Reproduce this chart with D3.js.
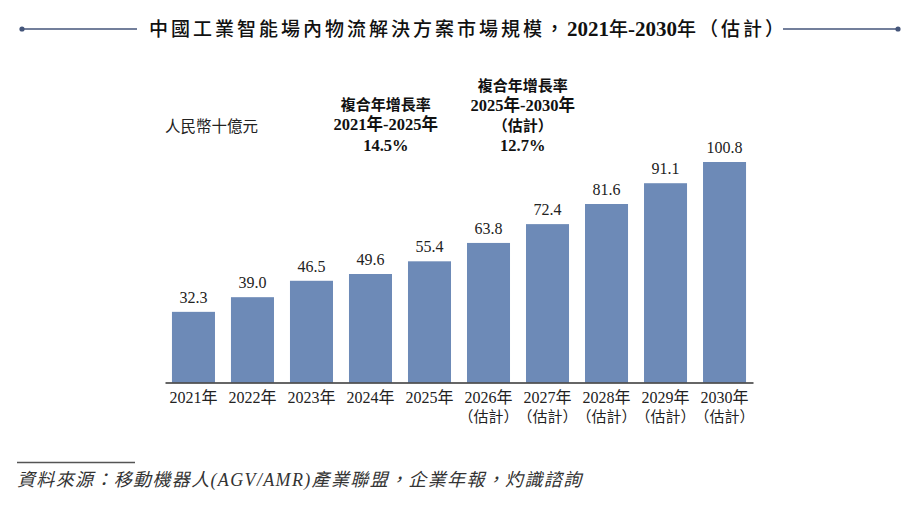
<!DOCTYPE html>
<html>
<head>
<meta charset="utf-8">
<script src="https://cdn.jsdelivr.net/npm/d3@7"></script>
<style>
body { margin: 0; background: #fff; }
svg { display: block; }
</style>
</head>
<body>
<svg width="920" height="521"></svg>
<script>
// data
var years = ["2021年","2022年","2023年","2024年","2025年","2026年","2027年","2028年","2029年","2030年"];
var subLabels = ["","","","","","（估計）","（估計）","（估計）","（估計）","（估計）"];
var values = [32.3, 39.0, 46.5, 49.6, 55.4, 63.8, 72.4, 81.6, 91.1, 100.8];
var cagr1 = ["複合年增長率","2021年-2025年","14.5%"];
var cagr2 = ["複合年增長率","2025年-2030年","（估計）","12.7%"];
var unitLabel = "人民幣十億元";
var source = "資料來源：移動機器人(AGV/AMR)產業聯盟，企業年報，灼識諮詢";

var svg = d3.select("svg");
var serif = "'Liberation Serif','Times New Roman','Noto Sans CJK TC',serif";
var cjk = "'Noto Sans CJK TC','Noto Sans CJK SC',sans-serif";
var barColor = "#6d8ab7";
var lineColor = "#44557a";

var axisY = 382.5;
var xScale = d3.scaleBand()
  .domain(years)
  .range([165, 753])
  .paddingInner(0.271)
  .paddingOuter(0.118);

var yScale = d3.scaleLinear()
  .domain([0, 100.8])
  .range([axisY, 162]);

// title
var title = svg.append("text")
  .attr("x", 149)
  .attr("y", 36)
  .attr("fill", "#111");
title.append("tspan").attr("font-family", cjk).attr("font-size", "19px").attr("font-weight", 500)
  .attr("letter-spacing", "3px").text("中國工業智能場內物流解決方案市場規模，");
title.append("tspan").attr("font-family", serif).attr("font-size", "21px").attr("font-weight", "bold").text("2021");
title.append("tspan").attr("font-family", cjk).attr("font-size", "19px").attr("font-weight", 500).text("年");
title.append("tspan").attr("font-family", serif).attr("font-size", "21px").attr("font-weight", "bold").text("-2030");
title.append("tspan").attr("font-family", cjk).attr("font-size", "19px").attr("font-weight", 500)
  .attr("letter-spacing", "3px").text("年（估計）");

// title rules with end dots
[[22, 137], [783, 898]].forEach(function(p) {
  svg.append("line")
    .attr("x1", p[0]).attr("x2", p[1])
    .attr("y1", 29).attr("y2", 29)
    .attr("stroke", lineColor).attr("stroke-width", 1.5);
});
svg.append("circle").attr("cx", 22).attr("cy", 29).attr("r", 2.6).attr("fill", lineColor);
svg.append("circle").attr("cx", 898).attr("cy", 29).attr("r", 2.6).attr("fill", lineColor);

// unit label
svg.append("text")
  .attr("x", 165).attr("y", 132)
  .attr("font-family", cjk).attr("font-size", "15.5px").attr("fill", "#222")
  .text(unitLabel);

// bars
svg.append("g")
  .selectAll("rect")
  .data(values)
  .enter()
  .append("rect")
  .attr("x", function(d, i) { return xScale(years[i]); })
  .attr("y", function(d) { return yScale(d); })
  .attr("width", xScale.bandwidth())
  .attr("height", function(d) { return axisY - yScale(d); })
  .attr("fill", barColor);

// value labels
svg.append("g")
  .selectAll("text")
  .data(values)
  .enter()
  .append("text")
  .attr("x", function(d, i) { return xScale(years[i]) + xScale.bandwidth() / 2; })
  .attr("y", function(d) { return yScale(d) - 9; })
  .attr("text-anchor", "middle")
  .attr("font-family", serif)
  .attr("font-size", "16px")
  .attr("fill", "#222")
  .text(function(d) { return d.toFixed(1); });

// x axis
var xAxis = d3.axisBottom(xScale).tickSize(0).tickPadding(0).tickFormat("");
var gx = svg.append("g")
  .attr("transform", "translate(0," + axisY + ")")
  .call(xAxis);
gx.select(".domain").attr("stroke", "#333").attr("stroke-width", 1.6);

var xl = svg.append("g")
  .selectAll("g")
  .data(years)
  .enter()
  .append("text")
  .attr("text-anchor", "middle")
  .attr("font-family", serif)
  .attr("font-size", "16px")
  .attr("fill", "#222");
xl.append("tspan")
  .attr("x", function(d) { return xScale(d) + xScale.bandwidth() / 2; })
  .attr("y", 403)
  .text(function(d) { return d; });
xl.append("tspan")
  .attr("x", function(d) { return xScale(d) + xScale.bandwidth() / 2; })
  .attr("y", 422)
  .attr("font-family", cjk)
  .attr("font-size", "15px")
  .text(function(d, i) { return subLabels[i]; });

// CAGR annotations
function cagrBlock(lines, cx, firstY) {
  svg.append("g")
    .selectAll("text")
    .data(lines)
    .enter()
    .append("text")
    .attr("x", cx)
    .attr("y", function(d, i) { return firstY + i * 20.3; })
    .attr("text-anchor", "middle")
    .attr("font-family", function(d) { return /^[0-9]/.test(d) ? serif : cjk; })
    .attr("font-weight", function(d) { return /^[0-9]/.test(d) ? "bold" : 700; })
    .attr("font-size", function(d) { return /^[0-9]/.test(d) ? "16.5px" : "15px"; })
    .attr("fill", "#111")
    .text(function(d) { return d; });
}
var step = xScale.step();
var c0 = xScale(years[0]) + xScale.bandwidth() / 2;
cagrBlock(cagr1, c0 + step * 3.26, 110);
cagrBlock(cagr2, c0 + step * 5.58, 90.5);

// source
svg.append("line")
  .attr("x1", 17).attr("x2", 135)
  .attr("y1", 462.5).attr("y2", 462.5)
  .attr("stroke", "#555").attr("stroke-width", 1.5);

svg.append("text")
  .attr("x", 17).attr("y", 486)
  .attr("font-family", serif)
  .attr("font-style", "italic")
  .attr("font-size", "18px")
  .attr("letter-spacing", "1.35px")
  .attr("fill", "#333")
  .text(source);
</script>
</body>
</html>
